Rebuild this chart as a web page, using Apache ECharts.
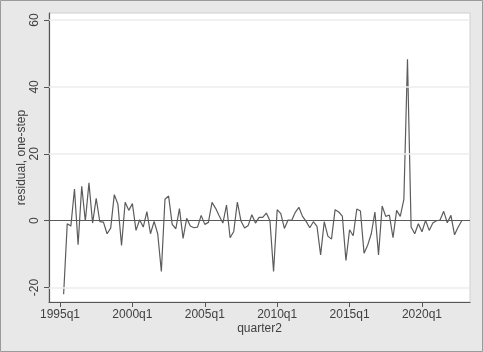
<!DOCTYPE html>
<html>
<head>
<meta charset="utf-8">
<script src="https://cdn.jsdelivr.net/npm/echarts@6/dist/echarts.min.js"></script>
<style>
html, body { margin: 0; padding: 0; background: #e8e8e8; }
#chart { width: 483px; height: 352px; }
</style>
</head>
<body>
<div id="chart"></div>
<script>
// quarter index 0 = 1995q1, series starts at 1995q2
var startIndex = 1;
var residuals = [
	-22, -0.9, -1.6, 9.5, -7.2, 10.3, -0.1, 11.3, -0.7, 6.7,
	-0.3, -0.4, -3.9, -2.2, 7.8, 4.9, -7.4, 5.5, 3.1, 5.1,
	-2.9, 0.3, -1.9, 2.7, -3.9, -0.2, -3.9, -15.2, 6.4, 7.4,
	-1.1, -2.4, 3.6, -5.3, 0.7, -1.6, -2.1, -1.9, 1.6, -1.1,
	-0.5, 5.5, 3.7, 1.4, -0.7, 4.7, -5.1, -3.2, 5.6, -0.1,
	-2.2, -1.4, 1.8, -0.7, 1.0, 1.0, 2.3, 0, -15.2, 3.3,
	2.1, -2.3, 0.2, 0.1, 2.5, 4.0, 1.3, -0.2, -2.1, -0.3,
	-1.7, -10.2, -0.3, -4.6, -5.5, 3.3, 2.6, 1.4, -11.9, -2.7,
	-4.5, 3.5, 2.9, -9.7, -7.3, -3.9, 2.6, -10.2, 4.4, 1.3,
	1.7, -5.1, 3.1, 1.3, 6.4, 48.3, -1.9, -3.9, -0.9, -3.3,
	0.1, -2.9, -0.7, 0, 0.2, 2.8, -0.6, 1.6, -4.2, -1.9,
	0
];
var xTickPos = [0, 20, 40, 60, 80, 100];
var xTickLabels = ['1995q1', '2000q1', '2005q1', '2010q1', '2015q1', '2020q1'];
var yTicks = [-20, 0, 20, 40, 60];

var seriesData = [];
for (var i = 0; i < residuals.length; i++) {
	seriesData.push([startIndex + i, residuals[i]]);
}
var gridLines = [];
for (var j = 0; j < yTicks.length; j++) {
	if (yTicks[j] !== 0) {
		gridLines.push({ yAxis: yTicks[j], lineStyle: { color: '#ececec', width: 1.5, type: 'solid' } });
	}
}
gridLines.push({ yAxis: 0, lineStyle: { color: '#5a5a5a', width: 1.2, type: 'solid' } });

var txt = { color: '#404040', fontFamily: 'Liberation Sans, Arial, sans-serif', fontSize: 12 };

var mycharts = echarts.init(document.getElementById('chart'));
var option = {
	backgroundColor: '#e8e8e8',
	animation: false,
	graphic: [{
		type: 'rect',
		shape: { x: 0.5, y: 0.5, width: 482, height: 351 },
		style: { fill: 'none', stroke: '#9a9a9a', lineWidth: 1 },
		silent: true
	}],
	grid: {
		left: 49, top: 13, right: 13, bottom: 50,
		show: true,
		backgroundColor: '#ffffff',
		borderColor: '#cfcfcf',
		borderWidth: 1
	},
	xAxis: {
		type: 'value',
		min: -3.04,
		max: 113.27,
		name: 'quarter2',
		nameLocation: 'middle',
		nameGap: 21,
		nameMoveOverlap: false,
		nameTextStyle: txt,
		axisLine: { show: true, onZero: false, lineStyle: { color: '#555', width: 1.2 } },
		axisTick: { show: true, length: 5, customValues: xTickPos, lineStyle: { color: '#555' } },
		axisLabel: {
			customValues: xTickPos,
			margin: 7,
			color: txt.color, fontFamily: txt.fontFamily, fontSize: 12,
			formatter: function (v) { return xTickLabels[xTickPos.indexOf(v)]; }
		},
		splitLine: { show: false }
	},
	yAxis: {
		type: 'value',
		min: -24.3,
		max: 62.1,
		name: 'residual, one-step',
		nameLocation: 'middle',
		nameRotate: 90,
		nameGap: 21,
		nameMoveOverlap: false,
		nameTextStyle: txt,
		axisLine: { show: true, onZero: false, lineStyle: { color: '#555', width: 1.2 } },
		axisTick: { show: true, length: 5, customValues: yTicks, lineStyle: { color: '#555' } },
		axisLabel: {
			customValues: yTicks,
			rotate: 90,
			margin: 8,
			color: txt.color, fontFamily: txt.fontFamily, fontSize: 12
		},
		splitLine: { show: false }
	},
	series: [{
		type: 'line',
		data: seriesData,
		symbol: 'none',
		lineStyle: { color: '#5c5c5c', width: 1.2 },
		markLine: {
			silent: true,
			symbol: 'none',
			label: { show: false },
			data: gridLines
		}
	}]
};
mycharts.setOption(option);
</script>
</body>
</html>
